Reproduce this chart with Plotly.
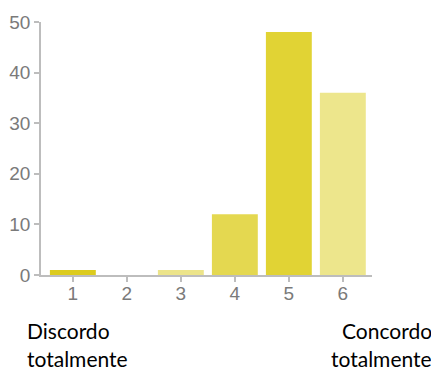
import plotly.graph_objects as go

categories = ["1", "2", "3", "4", "5", "6"]
values = [1, 0, 1, 12, 48, 36]
bar_colors = ["#dccb1e", "#dccb1e", "#ece48a", "#e4d850", "#e1d334", "#ede68c"]
y_ticks = [0, 10, 20, 30, 40, 50]
left_label = ["Discordo", "totalmente"]
right_label = ["Concordo", "totalmente"]

x_pos = [int(c) for c in categories]

fig = go.Figure(go.Bar(
    x=x_pos, y=values,
    marker=dict(color=bar_colors, line=dict(width=0)),
    width=0.85,
    hoverinfo="skip",
))

tick_font = dict(family="Liberation Sans, Arial, sans-serif", size=19, color="#7a7a7a")
axis_col = "#bdbdbd"

fig.update_layout(
    width=431, height=362,
    margin=dict(l=33, r=67, t=14, b=95),
    plot_bgcolor="white", paper_bgcolor="white",
    showlegend=False,
    xaxis=dict(
        range=[0.41, 6.54], tickvals=x_pos, ticktext=categories,
        showgrid=False, zeroline=False, showline=True, linecolor=axis_col, linewidth=1.5,
        ticks="outside", ticklen=5, tickcolor=axis_col, tickwidth=1.5,
        tickfont=tick_font, automargin=False, ticklabelstandoff=-5,
    ),
    yaxis=dict(
        range=[0, 50], tickvals=y_ticks,
        showgrid=False, zeroline=False, showline=True, linecolor=axis_col, linewidth=1.5,
        ticks="outside", ticklen=5, tickcolor=axis_col, tickwidth=1.5,
        tickfont=tick_font, automargin=False,
    ),
)

txt_font = dict(family="Lato, sans-serif", size=21, color="black")
for i, (l, r) in enumerate(zip(left_label, right_label)):
    y = -0.162 - 0.111 * i
    fig.add_annotation(text=l, xref="paper", yref="paper", x=-0.0483, y=y,
                       xanchor="left", yanchor="top", showarrow=False, font=txt_font)
    fig.add_annotation(text=r, xref="paper", yref="paper", x=1.187, y=y,
                       xanchor="right", yanchor="top", showarrow=False, font=txt_font)

fig.write_html("out.html")
